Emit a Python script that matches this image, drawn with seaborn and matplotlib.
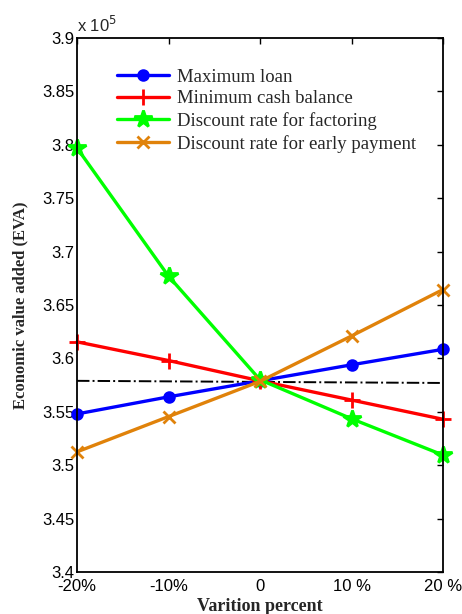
import matplotlib
matplotlib.use("Agg")
import matplotlib.pyplot as plt
import seaborn as sns
import pandas as pd
from matplotlib.ticker import FuncFormatter, FixedLocator

variation = [-20, -10, 0, 10, 20]
x_labels = ["-20%", "-10%", "0", "10 %", "20 %"]
max_loan = [354800, 356400, 357900, 359400, 360850]
min_cash = [361550, 359800, 357900, 356100, 354300]
factoring = [379700, 367700, 358000, 354350, 350950]
early_pay = [351250, 354550, 357850, 362100, 366450]
baseline = [357900, 357700]
series_names = ["Maximum loan", "Minimum cash balance",
                "Discount rate for factoring", "Discount rate for early payment"]

sns.set_theme(style="white")
plt.rcParams["font.family"] = ["Liberation Serif", "DejaVu Serif"]

rows = []
for name, vals in zip(series_names, [max_loan, min_cash, factoring, early_pay]):
    for xv, yv in zip(variation, vals):
        rows.append({"x": xv, "y": yv, "series": name})
df = pd.DataFrame(rows)

palette = {series_names[0]: "#0000ff", series_names[1]: "#ff0000",
           series_names[2]: "#00ff00", series_names[3]: "#e0820a"}
markers = {series_names[0]: "o", series_names[1]: "+",
           series_names[2]: "*", series_names[3]: "x"}
msize = {series_names[0]: 7, series_names[1]: 11,
         series_names[2]: 13, series_names[3]: 8}

fig = plt.figure(figsize=(4.62, 6.14), dpi=100)
ax = fig.add_axes([0.1667, 0.0684, 0.7922, 0.8697])

for name in series_names:
    sub = df[df["series"] == name]
    sns.lineplot(data=sub, x="x", y="y", ax=ax, color=palette[name],
                 marker=markers[name], markersize=msize[name],
                 markeredgewidth=2.0, markeredgecolor=palette[name],
                 linewidth=2.4, label=name, clip_on=False, zorder=3)

base_df = pd.DataFrame({"x": [variation[0], variation[-1]], "y": baseline})
sns.lineplot(data=base_df, x="x", y="y", ax=ax, color="black",
             linewidth=1.4, linestyle="-.", label="_nolegend_", zorder=2)

ax.set_xlim(-20, 20)
ax.set_ylim(340000, 390000)
ax.xaxis.set_major_locator(FixedLocator(variation))
ax.set_xticklabels(x_labels, family="Liberation Sans", fontsize=12)
ax.yaxis.set_major_locator(FixedLocator([340000 + 5000 * i for i in range(11)]))
ax.yaxis.set_major_formatter(FuncFormatter(lambda v, p: f"{v/1e5:g}"))
for t in ax.get_yticklabels():
    t.set_family("Liberation Sans")
    t.set_fontsize(12)

ax.tick_params(direction="in", top=True, right=True, length=4, width=1,
               colors="black")
ax.tick_params(axis="x", pad=5)
ax.tick_params(axis="y", pad=2)
for s in ax.spines.values():
    s.set_color("black")
    s.set_linewidth(1.3)
    s.set_zorder(4)

ax.set_xlabel("Varition percent", fontsize=13, fontweight="bold", labelpad=3)
ax.set_ylabel("Economic value added (EVA)", fontsize=12, fontweight="bold", labelpad=10)

ax.text(0.0, 1.005, r"x 10$^5$", transform=ax.transAxes, ha="left", va="bottom",
        fontsize=12, family="Liberation Sans")

leg = ax.legend(loc="upper left", bbox_to_anchor=(0.09, 0.957), frameon=False,
                fontsize=13.5, handlelength=2.75, labelspacing=0.25,
                handletextpad=0.4, borderaxespad=0)

fig.savefig("out.png", dpi=100)
